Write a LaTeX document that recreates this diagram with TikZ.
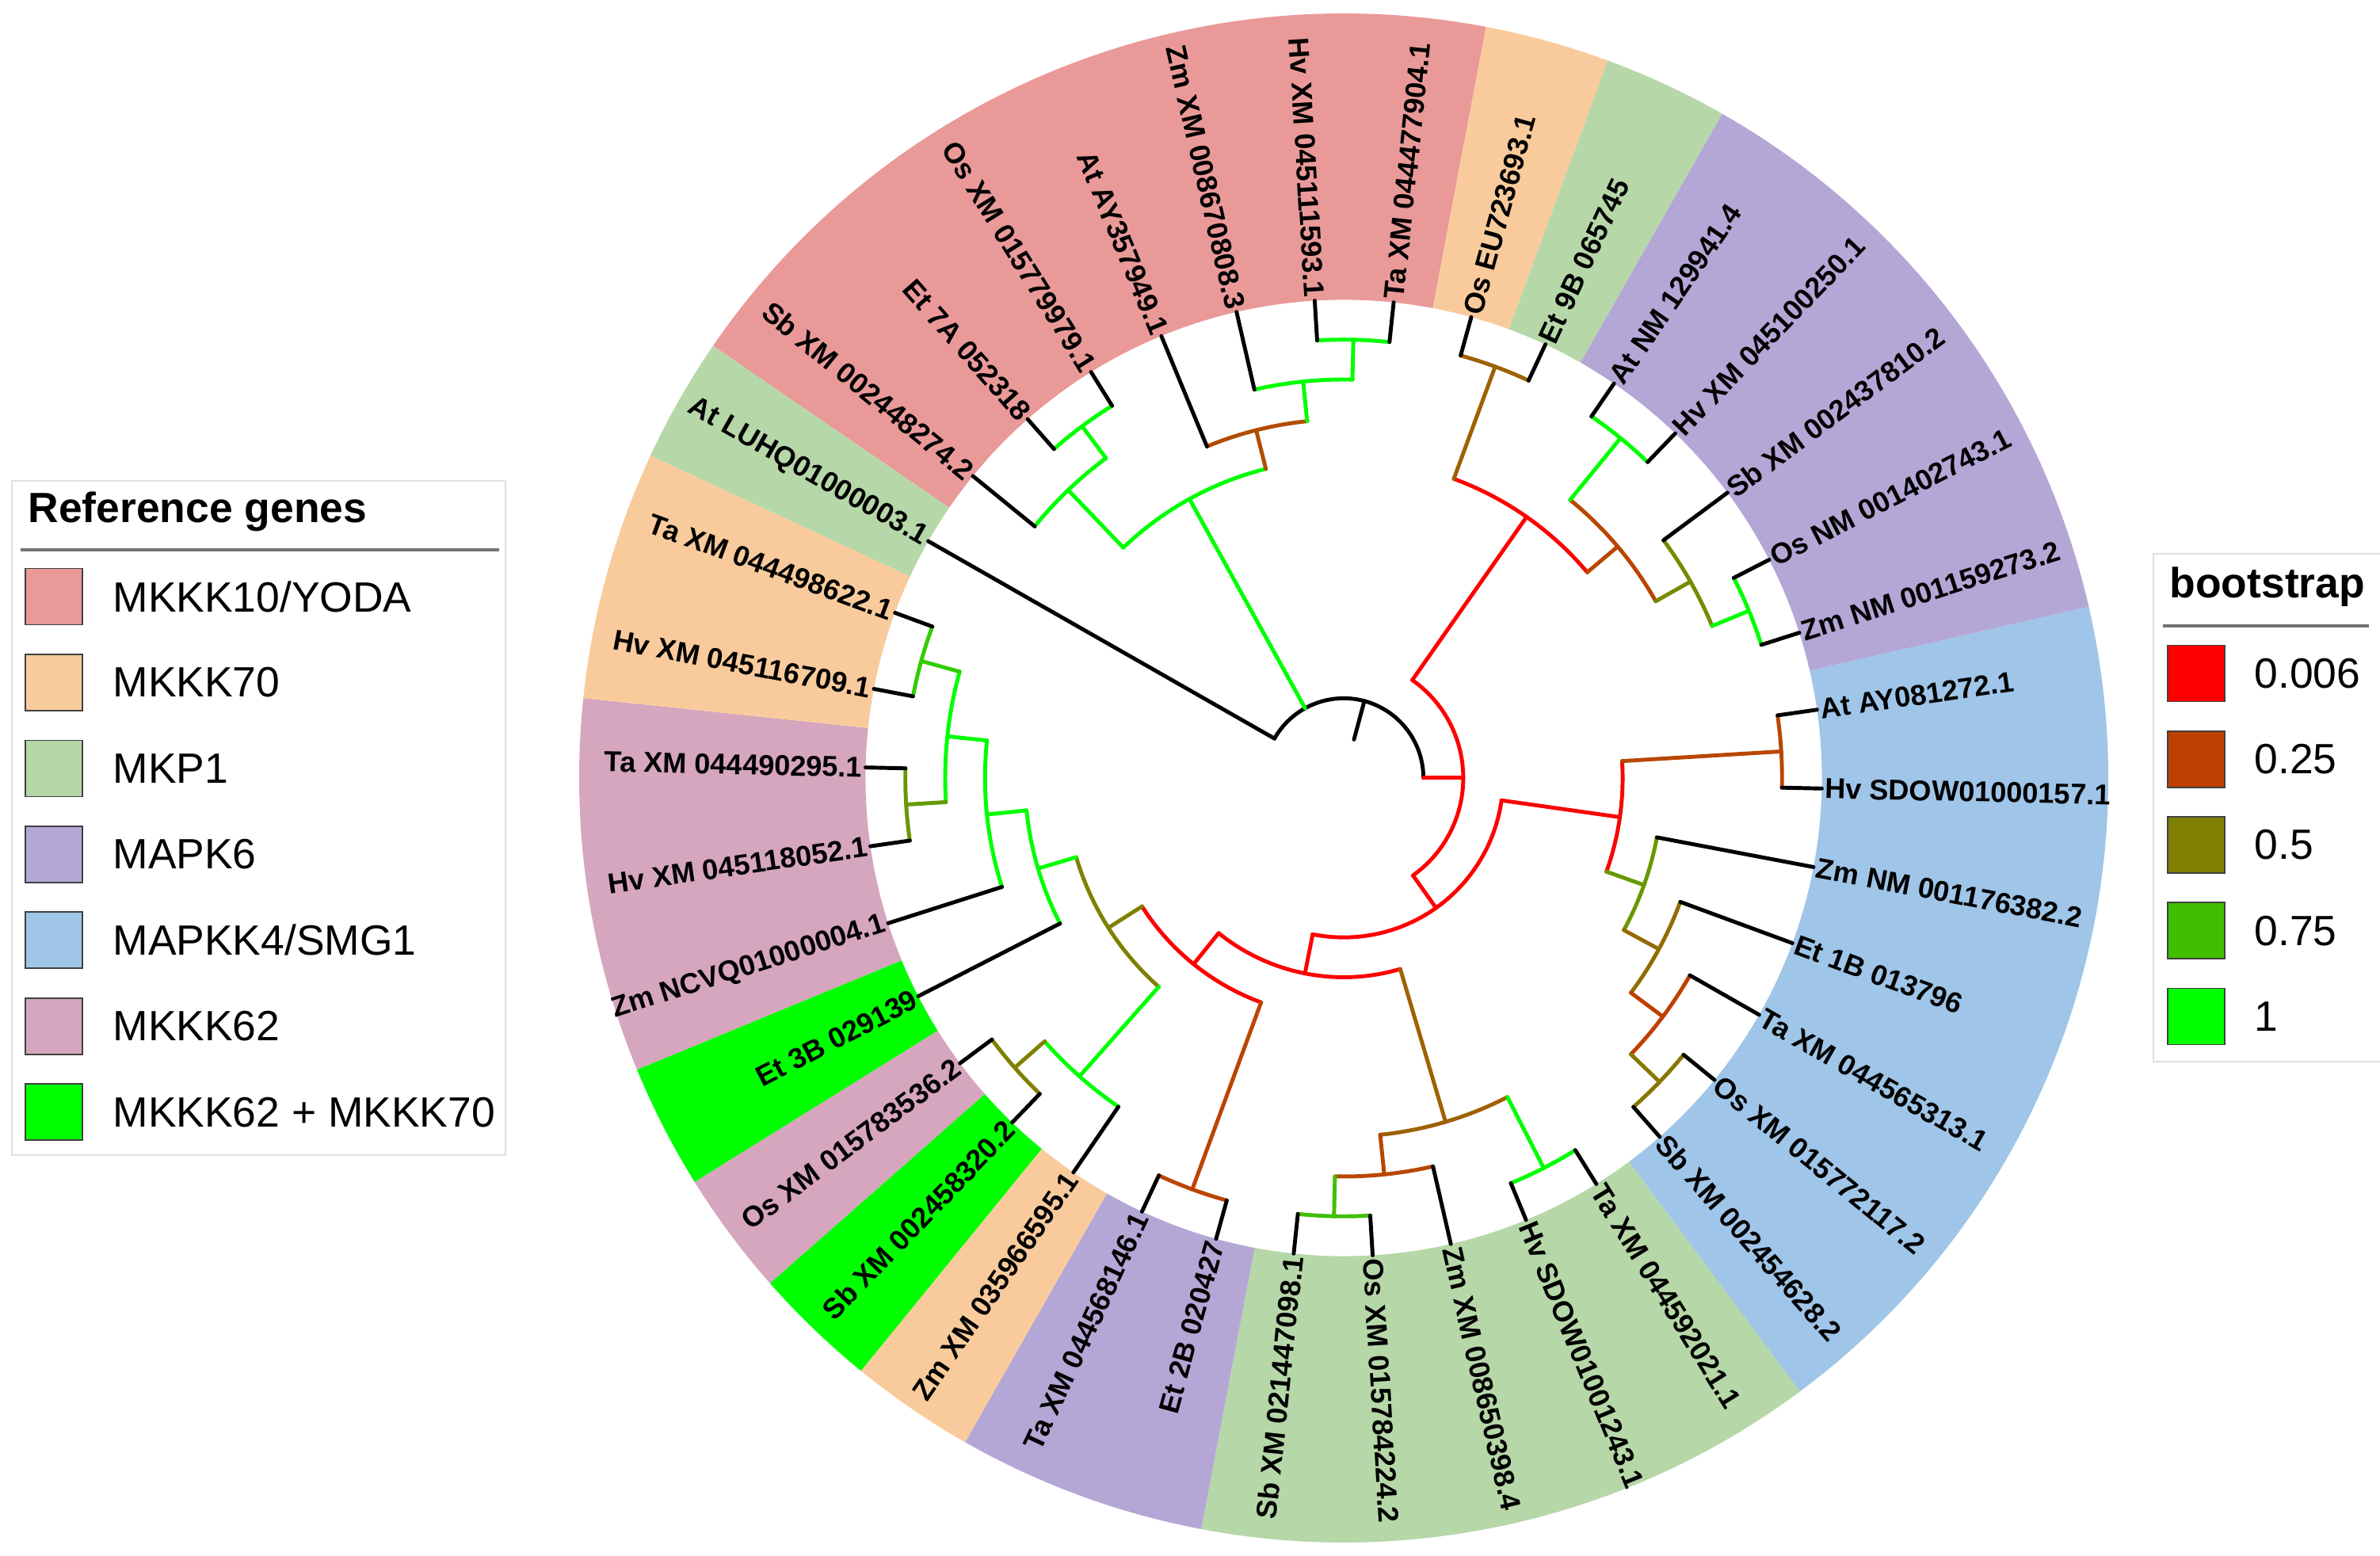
\documentclass[tikz,border=0pt]{standalone}
\usepackage{fontspec}
\setmainfont{Liberation Sans}
\usepackage{tikz}
\usetikzlibrary{positioning}

\definecolor{yoda}{HTML}{EA9999}
\definecolor{mkkkseventy}{HTML}{F9CB9C}
\definecolor{mkpone}{HTML}{B6D7A8}
\definecolor{mapksix}{HTML}{B4A7D6}
\definecolor{smgone}{HTML}{9FC5E8}
\definecolor{mkkksixtytwo}{HTML}{D5A6BD}
\definecolor{both}{HTML}{00FF00}

\newcommand{\rtip}{6.036}
\newcommand{\rout}{9.65}
\newcommand{\dlev}{0.503}

% #1 bootstrap %, #2 angle index, #3 parent level, #4 level, #5 first child, #6 last child
\newcommand{\treeclade}[6]{%
  \draw[branch,green!#1!red] ({ang(#2)}:{#3*\dlev}) -- ({ang(#2)}:{#4*\dlev});
  \draw[branch,green!#1!red] ({ang(#5)}:{#4*\dlev}) arc[start angle={ang(#5)},end angle={ang(#6)},radius={#4*\dlev}];
}
\newcommand{\treeleaf}[2]{%
  \draw[branch,black] ({ang(#1)}:{#2*\dlev}) -- ({ang(#1)}:{\rtip});
}
\newcommand{\ringsector}[3]{%
  \fill[#1] ({ang(#2)}:{\rtip}) arc[start angle={ang(#2)},end angle={ang(#3)},radius=\rtip]
    -- ({ang(#3)}:{\rout}) arc[start angle={ang(#3)},end angle={ang(#2)},radius=\rout] -- cycle;
}

\begin{document}
\begin{tikzpicture}[declare function={ang(\t)=84-9.473684*\t;},
                    branch/.style={line width=1.4pt,line cap=round,line join=round},
                    leaflab/.style={font=\fontsize{10.3}{12}\selectfont\bfseries,inner sep=1pt},
                    legtitle/.style={font=\fontsize{15.2}{18}\selectfont\bfseries,inner sep=0pt},
                    legtext/.style={font=\fontsize{15.2}{18}\selectfont,inner sep=0pt},
                    legbox/.style={draw=black!75,line width=0.5pt,minimum width=0.72cm,
                                   minimum height=0.71cm,inner sep=0pt},
                    legrule/.style={draw=black!55,line width=0.9pt},
                    legframe/.style={draw=black!12,line width=0.8pt}]

  \useasboundingbox (-16.96,-9.82) rectangle (13.08,9.82);
  \fill[white] (-16.96,-9.82) rectangle (13.08,9.82);

  \ringsector{yoda}{31.5}{38.5}
  \ringsector{mkkkseventy}{0.5}{1.5}
  \ringsector{mkpone}{1.5}{2.5}
  \ringsector{mapksix}{2.5}{7.5}
  \ringsector{smgone}{7.5}{14.5}
  \ringsector{mkpone}{14.5}{19.5}
  \ringsector{mapksix}{19.5}{21.5}
  \ringsector{mkkkseventy}{21.5}{22.5}
  \ringsector{both}{22.5}{23.5}
  \ringsector{mkkksixtytwo}{23.5}{24.5}
  \ringsector{both}{24.5}{25.5}
  \ringsector{mkkksixtytwo}{25.5}{28.5}
  \ringsector{mkkkseventy}{28.5}{30.5}
  \ringsector{mkpone}{30.5}{31.5}

  \draw[branch,black] (75:{1*\dlev}) -- (75:{2*\dlev});
  \draw[branch,black] ({ang(31)}:{2*\dlev}) arc[start angle={ang(31)},end angle={ang(46.85)},radius={2*\dlev}];
  \treeleaf{31}{2}

  \treeclade{100}{34.3125}{2}{8}{32.75}{35.875}
  \treeclade{100}{32.75}{8}{10}{32}{33.5}
  \treeleaf{32}{10}
  \treeclade{100}{33.5}{10}{11}{33}{34}
  \treeleaf{33}{11}
  \treeleaf{34}{11}
  \treeclade{30}{35.875}{8}{9}{35}{36.75}
  \treeleaf{35}{9}
  \treeclade{100}{36.75}{9}{10}{36}{37.5}
  \treeleaf{36}{10}
  \treeclade{100}{37.5}{10}{11}{37}{38}
  \treeleaf{37}{11}
  \treeleaf{38}{11}

  \treeclade{0}{8.85}{2}{3}{3.0625}{14.63}
  \treeclade{0}{3.0625}{3}{8}{1.5}{4.625}
  \treeclade{38}{1.5}{8}{11}{1}{2}
  \treeleaf{1}{11}
  \treeleaf{2}{11}
  \treeclade{27}{4.625}{8}{9}{3.5}{5.75}
  \treeclade{100}{3.5}{9}{11}{3}{4}
  \treeleaf{3}{11}
  \treeleaf{4}{11}
  \treeclade{55}{5.75}{9}{10}{5}{6.5}
  \treeleaf{5}{10}
  \treeclade{100}{6.5}{10}{11}{6}{7}
  \treeleaf{6}{11}
  \treeleaf{7}{11}

  \treeclade{0}{14.63}{3}{4}{9.71875}{19.55}
  \treeclade{3}{9.71875}{4}{7}{8.5}{10.9375}
  \treeclade{28}{8.5}{7}{11}{8}{9}
  \treeleaf{8}{11}
  \treeleaf{9}{11}
  \treeclade{60}{10.9375}{7}{8}{10}{11.875}
  \treeleaf{10}{8}
  \treeclade{42}{11.875}{8}{9}{11}{12.75}
  \treeleaf{11}{9}
  \treeclade{25}{12.75}{9}{10}{12}{13.5}
  \treeleaf{12}{10}
  \treeclade{47}{13.5}{10}{11}{13}{14}
  \treeleaf{13}{11}
  \treeleaf{14}{11}

  \treeclade{0}{19.55}{4}{5}{16.625}{22.47}
  \treeclade{38}{16.625}{5}{9}{15.5}{17.75}
  \treeclade{100}{15.5}{9}{11}{15}{16}
  \treeleaf{15}{11}
  \treeleaf{16}{11}
  \treeclade{28}{17.75}{9}{10}{17}{18.5}
  \treeleaf{17}{10}
  \treeclade{75}{18.5}{10}{11}{18}{19}
  \treeleaf{18}{11}
  \treeleaf{19}{11}

  \treeclade{0}{22.47}{5}{6}{20.5}{24.4375}
  \treeclade{27}{20.5}{6}{11}{20}{21}
  \treeleaf{20}{11}
  \treeleaf{21}{11}
  \treeclade{50}{24.4375}{6}{7}{22.75}{26.125}
  \treeclade{100}{22.75}{7}{10}{22}{23.5}
  \treeleaf{22}{10}
  \treeclade{50}{23.5}{10}{11}{23}{24}
  \treeleaf{23}{11}
  \treeleaf{24}{11}
  \treeclade{100}{26.125}{7}{8}{25}{27.25}
  \treeleaf{25}{8}
  \treeclade{100}{27.25}{8}{9}{26}{28.5}
  \treeleaf{26}{9}
  \treeclade{100}{28.5}{9}{10}{27.5}{29.5}
  \treeclade{60}{27.5}{10}{11}{27}{28}
  \treeleaf{27}{11}
  \treeleaf{28}{11}
  \treeclade{80}{29.5}{10}{11}{29}{30}
  \treeleaf{29}{11}
  \treeleaf{30}{11}

  \foreach \i/\gname in {0/Ta XM 044477904.1, 1/Os EU723693.1, 2/Et 9B 065745,
      3/At NM 129941.4, 4/Hv XM 045100250.1, 5/Sb XM 002437810.2,
      6/Os NM 001402743.1, 7/Zm NM 001159273.2, 8/At AY081272.1,
      9/Hv SDOW01000157.1, 10/Zm NM 001176382.2, 11/Et 1B 013796,
      12/Ta XM 044565313.1, 13/Os XM 015772117.2, 14/Sb XM 002454628.2,
      15/Ta XM 044592021.1, 16/Hv SDOW01001243.1, 17/Zm XM 008650398.4,
      18/Os XM 015784224.2, 19/Sb XM 021447098.1, 20/Et 2B 020427,
      21/Ta XM 044568146.1, 22/Zm XM 035966595.1, 23/Sb XM 002458320.2,
      24/Os XM 015783536.2, 25/Et 3B 029139, 26/Zm NCVQ01000004.1,
      27/Hv XM 045118052.1, 28/Ta XM 044490295.1, 29/Hv XM 045116709.1,
      30/Ta XM 044498622.1, 31/At LUHQ01000003.1, 32/Sb XM 002448274.2,
      33/Et 7A 052318, 34/Os XM 015779979.1, 35/At AY357949.1,
      36/Zm XM 008670808.3, 37/Hv XM 045111593.1} {
    \pgfmathsetmacro\a{mod(804-9.473684*\i,360)}
    \ifdim\a pt>90pt\relax
      \ifdim\a pt<270pt\relax
        \node[leaflab,anchor=east,rotate=\a-180] (lab\i) at (\a:\rtip) {\gname};
      \else
        \node[leaflab,anchor=west,rotate=\a] (lab\i) at (\a:\rtip) {\gname};
      \fi
    \else
      \node[leaflab,anchor=west,rotate=\a] (lab\i) at (\a:\rtip) {\gname};
    \fi
  }

  \draw[legframe] (-16.81,3.75) rectangle (-10.58,-4.76);
  \node[legtitle,anchor=west] (reftitle) at (-16.61,3.36) {Reference genes};
  \draw[legrule] (-16.70,2.88) -- (-10.66,2.88);
  \node[legbox,fill=yoda] (g1) at (-16.28,2.29) {};
  \node[legbox,fill=mkkkseventy,below=0.357cm of g1] (g2) {};
  \node[legbox,fill=mkpone,below=0.357cm of g2] (g3) {};
  \node[legbox,fill=mapksix,below=0.357cm of g3] (g4) {};
  \node[legbox,fill=smgone,below=0.357cm of g4] (g5) {};
  \node[legbox,fill=mkkksixtytwo,below=0.357cm of g5] (g6) {};
  \node[legbox,fill=both,below=0.357cm of g6] (g7) {};
  \node[legtext,right=0.37cm of g1] {MKKK10/YODA};
  \node[legtext,right=0.37cm of g2] {MKKK70};
  \node[legtext,right=0.37cm of g3] {MKP1};
  \node[legtext,right=0.37cm of g4] {MAPK6};
  \node[legtext,right=0.37cm of g5] {MAPKK4/SMG1};
  \node[legtext,right=0.37cm of g6] {MKKK62};
  \node[legtext,right=0.37cm of g7] {MKKK62 + MKKK70};

  \draw[legframe] (13.2,2.83) -- (10.22,2.83) -- (10.22,-3.58) -- (13.2,-3.58);
  \node[legtitle,anchor=west] (boottitle) at (10.42,2.41) {bootstrap};
  \draw[legrule] (10.34,1.92) -- (12.94,1.92);
  \node[legbox,fill=red] (b1) at (10.76,1.32) {};
  \node[legbox,fill=green!25!red,below=0.355cm of b1] (b2) {};
  \node[legbox,fill=green!50!red,below=0.355cm of b2] (b3) {};
  \node[legbox,fill=green!75!red,below=0.355cm of b3] (b4) {};
  \node[legbox,fill=green,below=0.355cm of b4] (b5) {};
  \node[legtext,right=0.36cm of b1] {0.006};
  \node[legtext,right=0.36cm of b2] {0.25};
  \node[legtext,right=0.36cm of b3] {0.5};
  \node[legtext,right=0.36cm of b4] {0.75};
  \node[legtext,right=0.36cm of b5] {1};

\end{tikzpicture}
\end{document}
